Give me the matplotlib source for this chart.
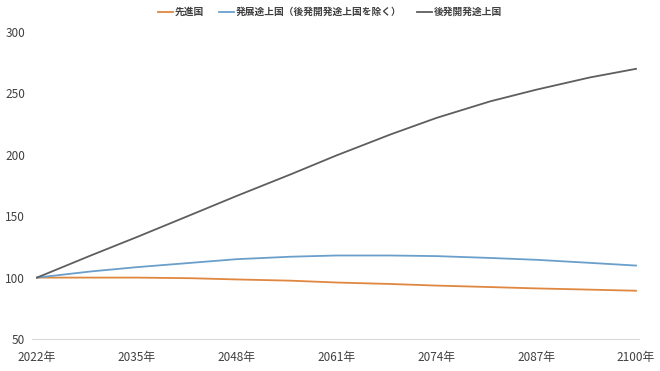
import numpy as np
import matplotlib
matplotlib.use('Agg')
from matplotlib import pyplot as plt

plt.rcParams['font.family'] = ['Noto Sans CJK JP', 'DejaVu Sans']

years = [2022, 2029, 2035, 2042, 2048, 2055, 2061, 2068, 2074, 2081, 2087, 2094, 2100]
developed = [100, 100, 100, 99.5, 98.5, 97.5, 96, 94.8, 93.5, 92.3, 91.2, 90.2, 89.3]
developing = [100, 105, 108.5, 112, 115, 117, 118, 118, 117.5, 116, 114.5, 112, 109.8]
least_developed = [100, 118, 133, 151, 166.5, 184, 199.5, 216.5, 230, 243.5, 253, 263, 270]

tick_years = [2022, 2035, 2048, 2061, 2074, 2087, 2100]
tick_labels = [f'{y}年' for y in tick_years]

fig = plt.figure(figsize=(6.6, 3.71), dpi=100)
ax = fig.add_axes([32 / 660, 1 - 339 / 371, 607 / 660, 307 / 371])

ax.plot(years, developed, color='#E0873F', lw=1.3, label='先進国')
ax.plot(years, developing, color='#6A9FCB', lw=1.3, label='発展途上国（後発開発途上国を除く）')
ax.plot(years, least_developed, color='#5E5E5E', lw=1.3, label='後発開発途上国')

ax.set_xlim(2022 - 5 / 7.68, 2100 + 3 / 7.68)
ax.set_ylim(50, 300)
ax.set_yticks([50, 100, 150, 200, 250, 300])
ax.set_xticks(tick_years)
ax.set_xticklabels(tick_labels)
ax.tick_params(axis='both', length=0, labelsize=8.5, colors='#404040')
ax.tick_params(axis='x', pad=9)
ax.tick_params(axis='y', pad=5)

for s in ['top', 'right', 'left']:
    ax.spines[s].set_visible(False)
ax.spines['bottom'].set_color('#D9D9D9')

leg = fig.legend(loc='center', bbox_to_anchor=(0.5, 1 - 12 / 371), ncol=3, frameon=False,
                 handlelength=1.5, handletextpad=0.2, columnspacing=1.6,
                 prop={'weight': 'bold', 'size': 7})
for t in leg.get_texts():
    t.set_color('#404040')

fig.savefig('out.png', dpi=100)
